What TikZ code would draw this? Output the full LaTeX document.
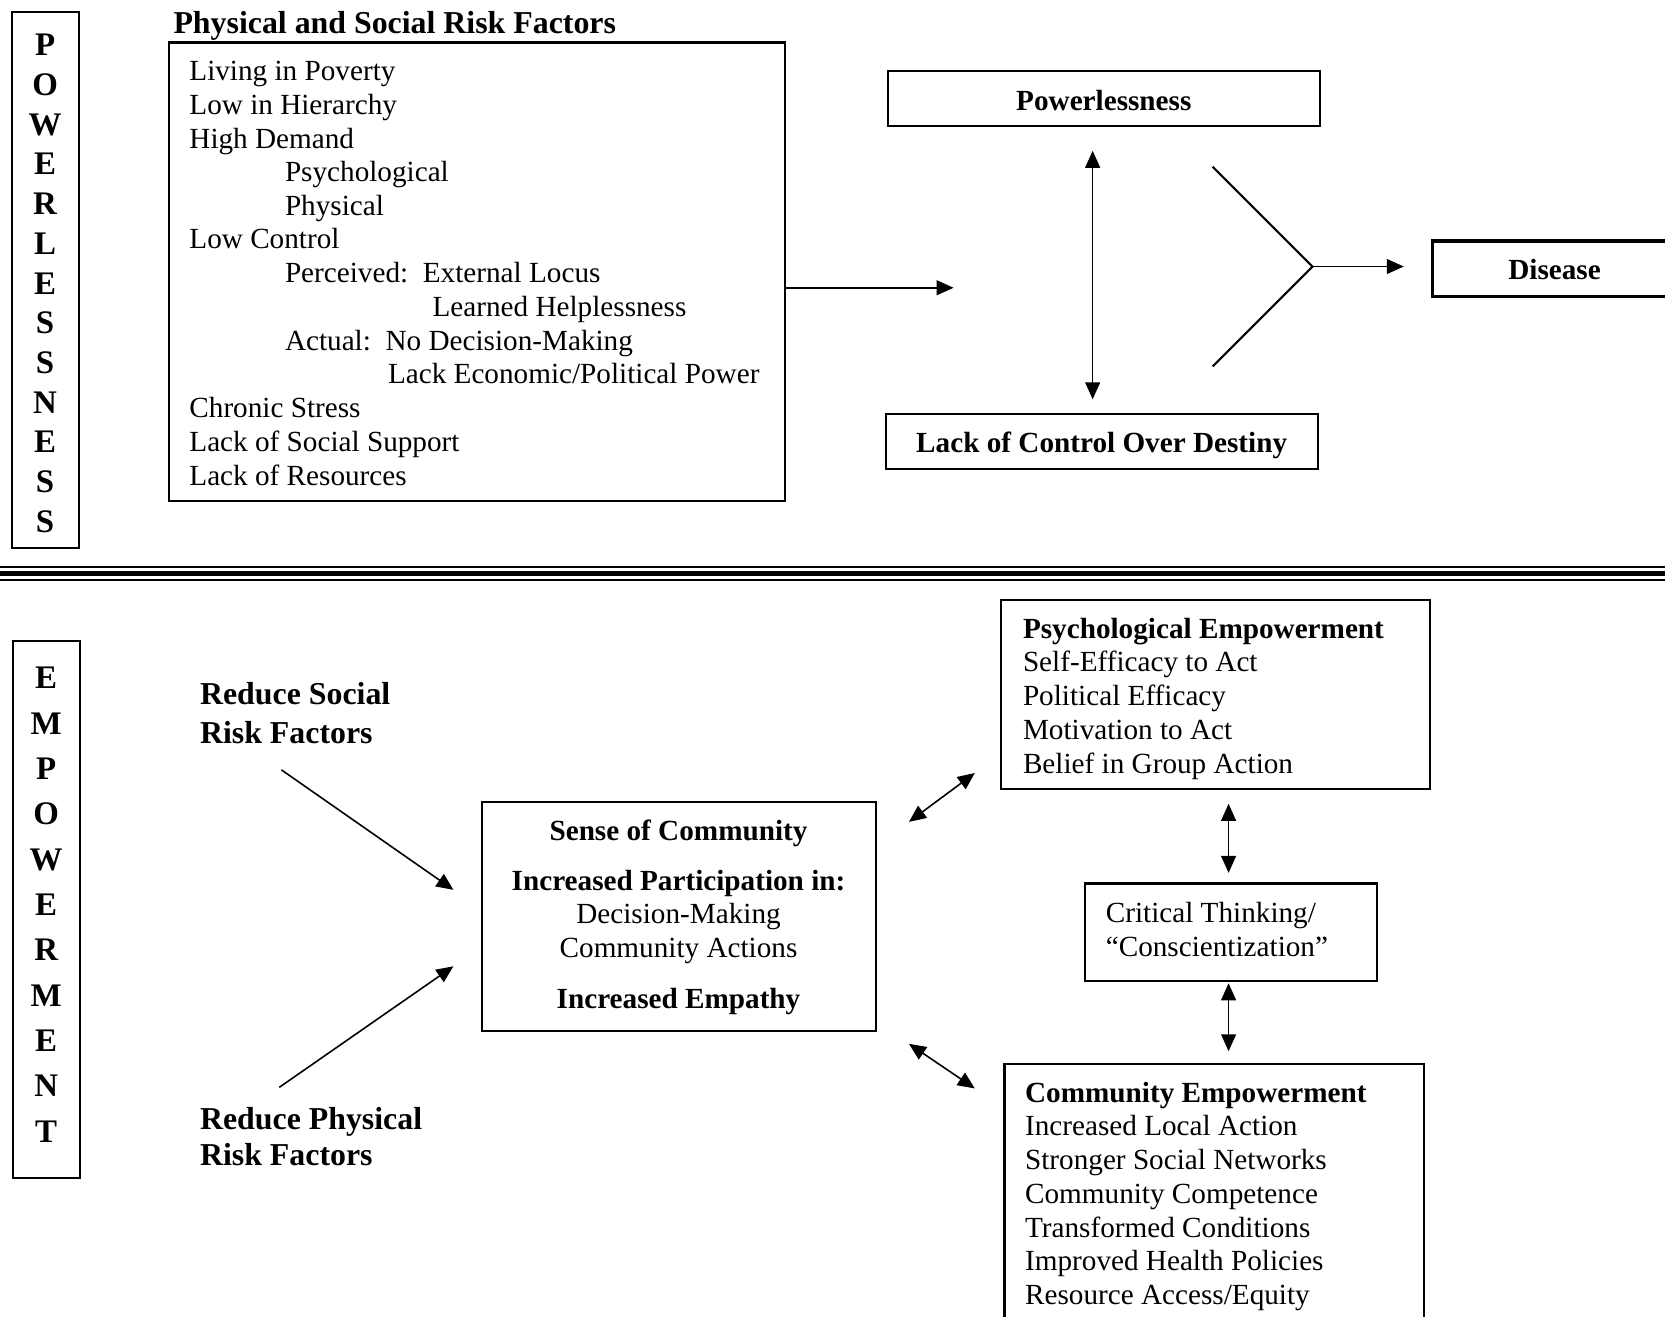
\documentclass[tikz,border=0pt]{standalone}
\usepackage{fontspec}
\setmainfont{Liberation Serif}
\usetikzlibrary{arrows.meta}
\begin{document}
\tikzset{
  box/.style={draw, line width=1pt, inner sep=0pt},
  txt/.style={anchor=west, inner sep=0pt, yshift=-1.5pt, font=\fontsize{13.75}{16}\selectfont, text height=9.4pt, text depth=3pt},
  btxt/.style={txt, font=\fontsize{13.75}{16}\selectfont\bfseries},
  ctxt/.style={txt, anchor=center},
  cbtxt/.style={btxt, anchor=center},
  bigtxt/.style={anchor=west, inner sep=0pt, yshift=-1.5pt, font=\fontsize{15}{18}\selectfont\bfseries, text height=10.2pt, text depth=3.3pt},
  boldbox/.style={box, font=\fontsize{13.75}{16}\selectfont\bfseries, text height=10.6pt, text depth=0pt},
  letters/.style={inner sep=0pt, align=center},
  tip/.tip={Triangle[length=8pt,width=7pt]},
  conn/.style={line width=0.75pt, -tip},
  dconn/.style={line width=0.75pt, tip-tip},
}
\begin{tikzpicture}[x=0.5pt,y=-0.5pt]
\useasboundingbox (0,0) rectangle (1568,1240);
\clip (0,0) rectangle (1568,1240);
% ---------- top half ----------
\node[box, minimum width=31.5pt, minimum height=252.5pt] (pbox) at (42.5,263.5) {};
\node[letters, font=\fontsize{15.5}{18.7}\selectfont\bfseries] (pletters) at (42.5,267)
      {P\\O\\W\\E\\R\\L\\E\\S\\S\\N\\E\\S\\S};
\node[bigtxt] (title) at (163,22) {Physical and Social Risk Factors};
\node[box, minimum width=290pt, minimum height=216pt] (risk) at (449,256) {};
\node[txt] (r1) at (178,66) {Living in Poverty};
\node[txt] (r2) at (178,98) {Low in Hierarchy};
\node[txt] (r3) at (178,130) {High Demand};
\node[txt] (r4) at (268,162) {Psychological};
\node[txt] (r5) at (268,194) {Physical};
\node[txt] (r6) at (178,225) {Low Control};
\node[txt] (r7) at (268,257) {Perceived:\ \ External Locus};
\node[txt] (r8) at (407,289) {Learned Helplessness};
\node[txt] (r9) at (268,321) {Actual:\ \ No Decision-Making};
\node[txt] (r10) at (365,352) {Lack Economic/Political Power};
\node[txt] (r11) at (178,384) {Chronic Stress};
\node[txt] (r12) at (178,416) {Lack of Social Support};
\node[txt] (r13) at (178,448) {Lack of Resources};

\node[boldbox, minimum width=203.5pt, minimum height=26pt] (pw) at (1039.5,93) {Powerlessness};
\node[boldbox, minimum width=203.5pt, minimum height=26pt] (lc) at (1037.5,416) {Lack of Control Over Destiny};
\node[boldbox, line width=1.6pt, minimum width=115pt, minimum height=26pt] (dis) at (1464,253) {Disease};

\coordinate (a1e) at (898,271);
\draw[conn] (risk.east |- a1e) -- (a1e);
\coordinate (v1) at (1029,142);
\coordinate (v2) at (1029,376);
\draw[dconn] (v1) -- (v2);
\coordinate (c1) at (1142,157);
\coordinate (cj) at (1236,251);
\coordinate (c2) at (1142,345);
\draw[line width=1pt] (c1) -- (cj) -- (c2);
\coordinate (a3e) at (1322,251);
\draw[conn] (cj) -- (a3e);

% ---------- separator ----------
\draw[line width=1pt] (0,534) -- (1568,534);
\draw[line width=2.3pt] (0,540.2) -- (1568,540.2);
\draw[line width=1pt] (0,546.3) -- (1568,546.3);

% ---------- bottom half ----------
\node[box, minimum width=31.5pt, minimum height=252.5pt] (ebox) at (43.5,856.5) {};
\node[letters, font=\fontsize{15.5}{21.35}\selectfont\bfseries] (eletters) at (43.5,852)
      {E\\M\\P\\O\\W\\E\\R\\M\\E\\N\\T};
\node[bigtxt] (rs1) at (188,654) {Reduce Social};
\node[bigtxt] (rs2) at (188,690) {Risk Factors};
\node[bigtxt] (rp1) at (188,1054) {Reduce Physical};
\node[bigtxt] (rp2) at (188,1088) {Risk Factors};

\node[box, minimum width=185.5pt, minimum height=108pt] (sc) at (639.5,863) {};
\node[cbtxt] (s1) at (639,782) {Sense of Community};
\node[cbtxt] (s2) at (639,829) {Increased Participation in:};
\node[ctxt] (s3) at (639,860) {Decision-Making};
\node[ctxt] (s4) at (639,892) {Community Actions};
\node[cbtxt] (s5) at (639,940) {Increased Empathy};

\node[box, minimum width=202pt, minimum height=89pt] (pe) at (1145,654) {};
\node[btxt] (p1) at (963,592) {Psychological Empowerment};
\node[txt] (p2) at (963,623) {Self-Efficacy to Act};
\node[txt] (p3) at (963,655) {Political Efficacy};
\node[txt] (p4) at (963,687) {Motivation to Act};
\node[txt] (p5) at (963,719) {Belief in Group Action};

\node[box, minimum width=137.5pt, minimum height=46pt] (ct) at (1159.5,878) {};
\node[txt] (ct1) at (1041,859) {Critical Thinking/};
\node[txt] (ct2) at (1041,891) {“Conscientization”};

\node[box, minimum width=197.5pt, minimum height=129pt] (ce) at (1143.5,1131) {};
\node[btxt] (e1) at (965,1029) {Community Empowerment};
\node[txt] (e2) at (965,1060) {Increased Local Action};
\node[txt] (e3) at (965,1092) {Stronger Social Networks};
\node[txt] (e4) at (965,1124) {Community Competence};
\node[txt] (e5) at (965,1156) {Transformed Conditions};
\node[txt] (e6) at (965,1187) {Improved Health Policies};
\node[txt] (e7) at (965,1219) {Resource Access/Equity};

\coordinate (a4s) at (265,725);
\coordinate (a4e) at (427,838);
\draw[conn] (a4s) -- (a4e);
\coordinate (a5s) at (263,1024);
\coordinate (a5e) at (427,910);
\draw[conn] (a5s) -- (a5e);
\coordinate (a6s) at (856,774);
\coordinate (a6e) at (918,728);
\draw[dconn] (a6s) -- (a6e);
\coordinate (a7s) at (856,983);
\coordinate (a7e) at (918,1025);
\draw[dconn] (a7s) -- (a7e);
\coordinate (a8s) at (1157,757);
\coordinate (a8e) at (1157,822);
\draw[dconn] (a8s) -- (a8e);
\coordinate (a9s) at (1157,926);
\coordinate (a9e) at (1157,990);
\draw[dconn] (a9s) -- (a9e);
\end{tikzpicture}
\end{document}
